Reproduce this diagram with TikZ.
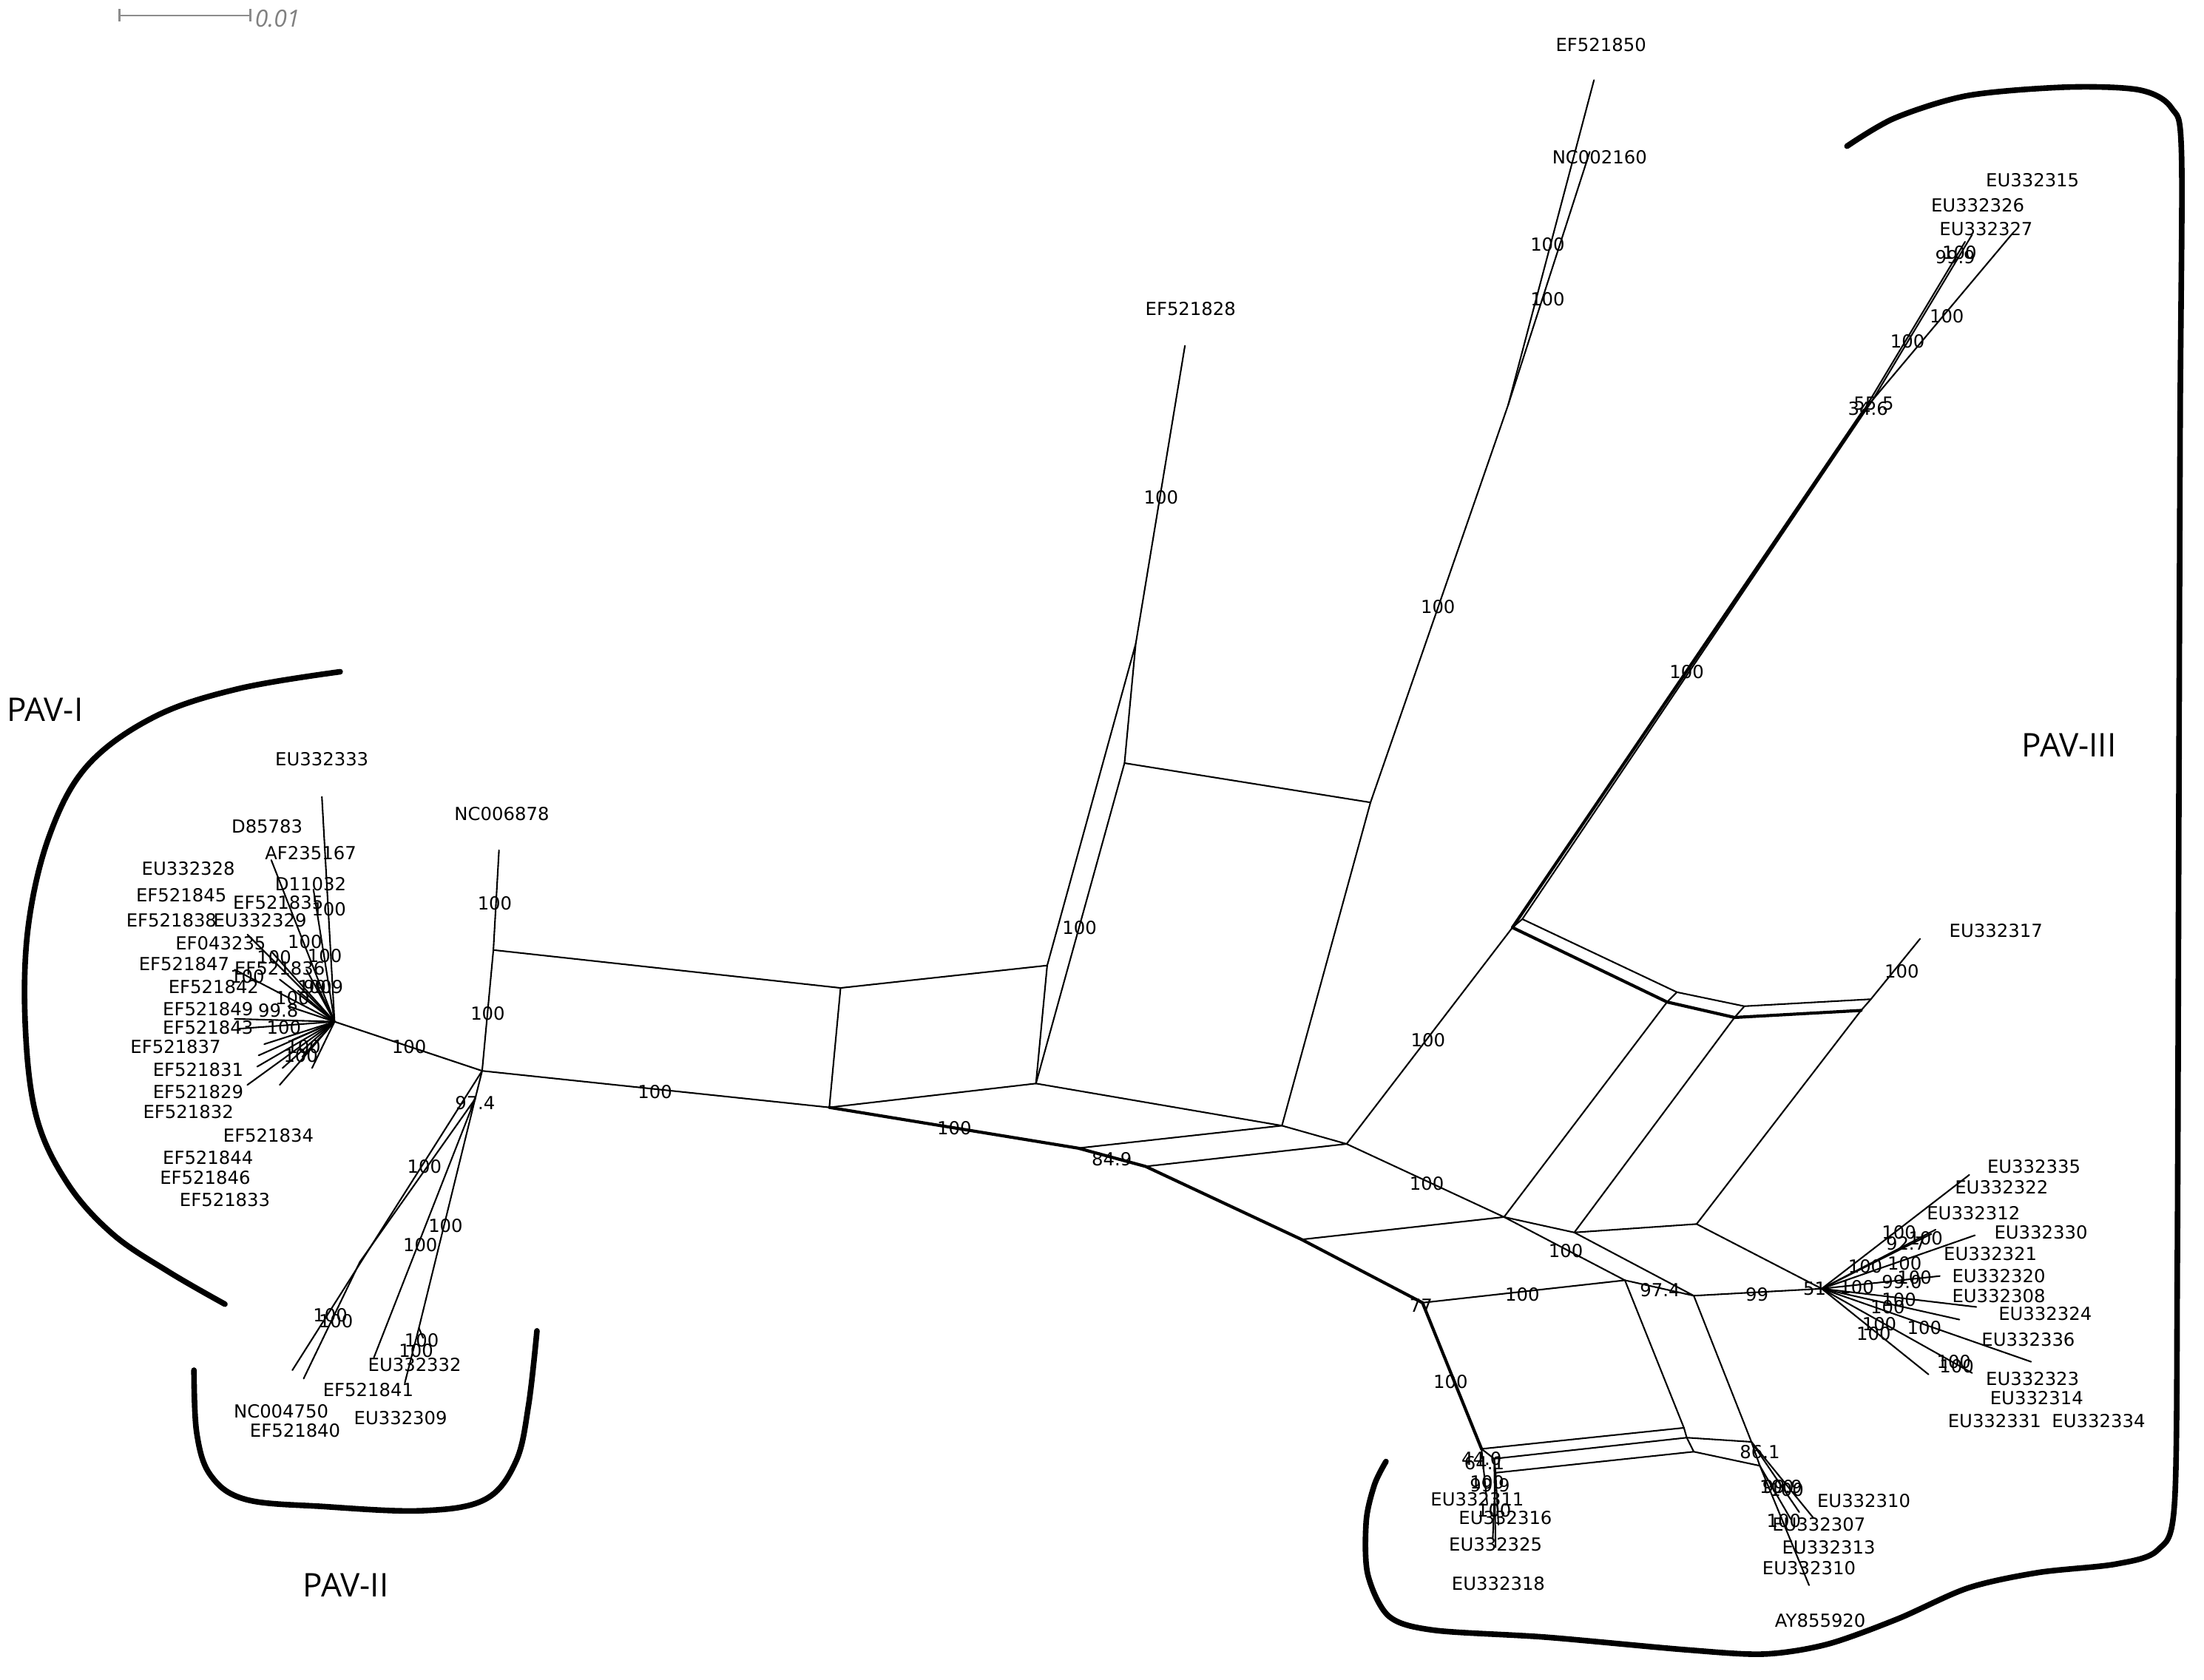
\documentclass[tikz,border=0pt]{standalone}
\usepackage{fontspec}
\usetikzlibrary{calc}
\setmainfont{DejaVu Sans}
\newfontfamily\pavfont{Open Sans}
\begin{document}
\begin{tikzpicture}[x=0.5pt,y=-0.5pt,
  br/.style={line width=0.55pt, line join=round, line cap=round},
  brthick/.style={line width=1.1pt, line join=round, line cap=round},
  lab/.style={font=\fontsize{6.4}{7}\selectfont, inner sep=0pt},
  pav/.style={font=\pavfont\fontsize{11.6}{13}\selectfont, inner sep=0pt},
  bracket/.style={line width=2pt, line cap=round, line join=round}]
\useasboundingbox (0,0) rectangle (1568,1195);
% ---------- scale bar ----------
\coordinate (sb1) at (85,11); \coordinate (sb2) at (178,11);
\draw[gray!90, line width=0.7pt] (sb1) -- (sb2);
\draw[gray!90, line width=0.7pt] ($(sb1)+(0,-4.5)$) -- ($(sb1)+(0,4.5)$);
\draw[gray!90, line width=0.7pt] ($(sb2)+(0,-4.5)$) -- ($(sb2)+(0,4.5)$);
\node[font=\pavfont\itshape\fontsize{8.4}{9}\selectfont, text=gray, anchor=west, inner sep=0pt] (sbt) at (181,13) {0.01};
% ---------- vertices ----------
\coordinate (hubI) at (238,727);
\coordinate (A) at (343,762);
\coordinate (Q) at (338,782);
\coordinate (B) at (351,676);
\coordinate (tNC6878) at (355,605);
\coordinate (C) at (598,703);
\coordinate (D) at (590,788);
\coordinate (E) at (745,687);
\coordinate (F) at (737,771);
\coordinate (X1) at (808,458);
\coordinate (X2) at (800,543);
\coordinate (tEF521828) at (843,246);
\coordinate (Y2) at (975,571);
\coordinate (J) at (1073,288);
\coordinate (tEF521850) at (1134,57);
\coordinate (tNC002160) at (1131,108);
\coordinate (G1) at (912,801);
\coordinate (G2) at (958,814);
\coordinate (H1) at (767,817);
\coordinate (H2) at (815,830);
\coordinate (H3) at (926,882);
\coordinate (N77) at (1012,927);
\coordinate (M1) at (1070,866);
\coordinate (M2) at (1120,877);
\coordinate (M3) at (1207,871);
\coordinate (M4) at (1156,911);
\coordinate (M5) at (1205,922);
\coordinate (hubR) at (1296,917);
\coordinate (K1) at (1076,660);
\coordinate (K1b) at (1083,654);
\coordinate (T1) at (1186,713);
\coordinate (T1b) at (1193,706);
\coordinate (T2) at (1234,724);
\coordinate (T2b) at (1241,716);
\coordinate (T3) at (1324,719);
\coordinate (T3b) at (1331,711);
\coordinate (tEU332317) at (1366,668);
\coordinate (U) at (1326,292);
\coordinate (Ub) at (1332,285);
\coordinate (La) at (1054,1031);
\coordinate (Lb) at (1063,1038);
\coordinate (Lc) at (1064,1048);
\coordinate (Pa) at (1198,1016);
\coordinate (Pb) at (1200,1023);
\coordinate (Pc) at (1205,1033);
\coordinate (Ra) at (1246,1026);
\coordinate (Rc) at (1252,1043);
\coordinate (S2) at (256,898);
\coordinate (R2) at (298,945);
% ---------- network edges ----------
\draw[br] (hubI) -- (A) -- (B) -- (tNC6878);
\draw[br] (A) -- (Q);
\draw[br] (B) -- (C) -- (D) -- (A);
\draw[br] (C) -- (E) -- (F) -- (D);
\draw[br] (E) -- (X1) -- (X2) -- (F);
\draw[br] (X1) -- (tEF521828);
\draw[br] (X2) -- (Y2) -- (G1) -- (F);
\draw[br] (Y2) -- (J) -- (tEF521850);
\draw[br] (J) -- (tNC002160);
\draw[brthick] (D) -- (H1) -- (H2) -- (H3) -- (N77);
\draw[br] (H1) -- (G1) -- (G2) -- (H2);
\draw[br] (G2) -- (M1) -- (H3);
\draw[br] (M1) -- (M4) -- (N77);
\draw[br] (G2) -- (K1);
\draw[brthick] (K1) -- (T1) -- (T2) -- (T3);
\draw[br] (K1) -- (K1b) -- (T1b) -- (T2b) -- (T3b) -- (tEU332317);
\draw[br] (T1) -- (T1b); \draw[br] (T2) -- (T2b); \draw[br] (T3) -- (T3b);
\draw[br] (T1) -- (M1) -- (M2) -- (T2);
\draw[br] (M2) -- (M3) -- (T3);
\draw[br] (M2) -- (M5) -- (M4);
\draw[br] (M3) -- (hubR) -- (M5);
\draw[brthick] (K1) -- (U);
\draw[br] (K1b) -- (Ub) -- (U);
\draw[br] (U) -- (1431,167);
\draw[br] (U) -- (1398,172);
\draw[br] (Ub) -- (1403,167);
\draw[brthick] (N77) -- (La);
\draw[br] (La) -- (Pa); \draw[br] (Lb) -- (Pb); \draw[br] (Lc) -- (Pc);
\draw[br] (La) -- (Lb) -- (Lc);
\draw[br] (Pa) -- (Pb) -- (Pc);
\draw[br] (M4) -- (Pa);
\draw[br] (M5) -- (Ra);
\draw[br] (Pb) -- (Ra) -- (Rc) -- (Pc);
% bottom-right fan
\draw[br] (Ra) -- (1280,1076);
\draw[br] (Ra) -- (1290,1080);
\draw[br] (Rc) -- (1274,1081);
\draw[br] (Rc) -- (1287,1128);
% bottom-left fan
\draw[br] (Lb) -- (1064,1101);
\draw[br] (Lc) -- (1066,1085);
\draw[br] (La) -- (1058,1070);
\draw[br] (Lc) -- (1062,1095);
% right hub fan
\foreach \p in {(1401,836),(1377,875),(1374,878),(1405,879),(1380,908),(1406,930),(1394,939),(1445,969),(1403,977),(1372,978)}
  \draw[br] (hubR) -- \p;
% PAV-I hub fan
\foreach \p in {(229,567),(193,612),(223,633),(176,665),(193,677),(167,690),(199,697),(167,725),(170,732),(188,743),(184,751),(183,759),(176,772),(201,760),(199,772),(212,705),(218,690),(208,740),(215,752),(222,760),(225,700),(205,716)}
  \draw[br] (hubI) -- \p;
% PAV-II branches
\draw[br] (A) -- (208,975);
\draw[br] (Q) -- (S2) -- (216,981);
\draw[br] (Q) -- (266,966);
\draw[br] (Q) -- (R2) -- (288,984);
\draw[br] (R2) -- (301,952);
% ---------- taxon labels ----------
\node[lab] (lEF521850) at (1139,32) {EF521850};
\node[lab] (lNC002160) at (1138,112) {NC002160};
\node[lab] (lEF521828) at (847,220) {EF521828};
\node[lab] (lNC006878) at (357,579) {NC006878};
\node[lab] (lEU332317) at (1420,662) {EU332317};
\node[lab] (lEU332315) at (1446,128) {EU332315};
\node[lab] (lEU332326) at (1407,146) {EU332326};
\node[lab] (lEU332327) at (1413,163) {EU332327};
% PAV-I
\node[lab] (lEU332333) at (229,540) {EU332333};
\node[lab] (lD85783) at (190,588) {D85783};
\node[lab] (lAF235167) at (221,607) {AF235167};
\node[lab] (lEU332328) at (134,618) {EU332328};
\node[lab] (lD11032) at (221,629) {D11032};
\node[lab] (lEF521845) at (129,637) {EF521845};
\node[lab] (lEF521835) at (198,642) {EF521835};
\node[lab] (lEF521838) at (122,655) {EF521838};
\node[lab] (lEU332329) at (185,655) {EU332329};
\node[lab] (lEF043235) at (157,671) {EF043235};
\node[lab] (lEF521847) at (131,686) {EF521847};
\node[lab] (lEF521836) at (199,689) {EF521836};
\node[lab] (lEF521842) at (152,702) {EF521842};
\node[lab] (lEF521849) at (148,718) {EF521849};
\node[lab] (lEF521843) at (148,731) {EF521843};
\node[lab] (lEF521837) at (125,745) {EF521837};
\node[lab] (lEF521831) at (141,761) {EF521831};
\node[lab] (lEF521829) at (141,777) {EF521829};
\node[lab] (lEF521832) at (134,791) {EF521832};
\node[lab] (lEF521834) at (191,808) {EF521834};
\node[lab] (lEF521844) at (148,824) {EF521844};
\node[lab] (lEF521846) at (146,838) {EF521846};
\node[lab] (lEF521833) at (160,854) {EF521833};
% PAV-II
\node[lab] (lEU332332) at (295,971) {EU332332};
\node[lab] (lEF521841) at (262,989) {EF521841};
\node[lab] (lNC004750) at (200,1004) {NC004750};
\node[lab] (lEU332309) at (285,1009) {EU332309};
\node[lab] (lEF521840) at (210,1018) {EF521840};
% PAV-III right hub
\node[lab] (lEU332335) at (1447,830) {EU332335};
\node[lab] (lEU332322) at (1424,845) {EU332322};
\node[lab] (lEU332312) at (1404,863) {EU332312};
\node[lab] (lEU332330) at (1452,877) {EU332330};
\node[lab] (lEU332321) at (1416,892) {EU332321};
\node[lab] (lEU332320) at (1422,908) {EU332320};
\node[lab] (lEU332308) at (1422,922) {EU332308};
\node[lab] (lEU332324) at (1455,935) {EU332324};
\node[lab] (lEU332336) at (1443,953) {EU332336};
\node[lab] (lEU332323) at (1446,981) {EU332323};
\node[lab] (lEU332314) at (1449,995) {EU332314};
\node[lab] (lEU332331) at (1419,1011) {EU332331};
\node[lab] (lEU332334) at (1493,1011) {EU332334};
% bottom clusters
\node[lab] (lEU332311) at (1051,1067) {EU332311};
\node[lab] (lEU332316) at (1071,1080) {EU332316};
\node[lab] (lEU332325) at (1064,1099) {EU332325};
\node[lab] (lEU332318) at (1066,1127) {EU332318};
\node[lab] (lEU332310a) at (1326,1068) {EU332310};
\node[lab] (lEU332307) at (1294,1085) {EU332307};
\node[lab] (lEU332313) at (1301,1101) {EU332313};
\node[lab] (lEU332310b) at (1287,1116) {EU332310};
\node[lab] (lAY855920) at (1295,1153) {AY855920};
% ---------- support values ----------
\node[lab] (s1) at (1101,174) {100};
\node[lab] (s2) at (1101,213) {100};
\node[lab] (s3) at (826,354) {100};
\node[lab] (s4) at (1023,432) {100};
\node[lab] (s5) at (768,660) {100};
\node[lab] (s6) at (1200,478) {100};
\node[lab] (s7) at (1016,740) {100};
\node[lab] (s8) at (1353,691) {100};
\node[lab] (s9) at (466,777) {100};
\node[lab] (s10) at (679,803) {100};
\node[lab] (s11) at (791,825) {84.9};
\node[lab] (s12) at (1015,842) {100};
\node[lab] (s13) at (1114,890) {100};
\node[lab] (s14) at (1083,921) {100};
\node[lab] (s15) at (1181,918) {97.4};
\node[lab] (s16) at (1250,921) {99};
\node[lab] (s17) at (1011,929) {77};
\node[lab] (s18) at (1032,983) {100};
\node[lab] (s19) at (352,643) {100};
\node[lab] (s20) at (347,721) {100};
\node[lab] (s21) at (338,785) {97.4};
\node[lab] (s22) at (291,745) {100};
\node[lab] (s23) at (1333,287) {55.5};
\node[lab] (s24) at (1329,291) {34.6};
\node[lab] (s25) at (1394,180) {100};
\node[lab] (s26) at (1391,183) {99.9};
\node[lab] (s27) at (1357,243) {100};
\node[lab] (s28) at (1385,225) {100};
% right hub supports
\node[lab] (h0) at (1291,917) {51};
\node[lab] (h1) at (1351,877) {100};
\node[lab] (h2) at (1370,881) {100};
\node[lab] (h3) at (1356,885) {92.7};
\node[lab] (h4) at (1327,901) {100};
\node[lab] (h5) at (1355,899) {100};
\node[lab] (h6) at (1321,916) {100};
\node[lab] (h7) at (1353,912) {99.0};
\node[lab] (h8) at (1362,909) {100};
\node[lab] (h9) at (1351,925) {100};
\node[lab] (h10) at (1343,930) {100};
\node[lab] (h11) at (1369,945) {100};
\node[lab] (h12) at (1337,942) {100};
\node[lab] (h13) at (1333,949) {100};
\node[lab] (h14) at (1390,969) {100};
\node[lab] (h15) at (1392,972) {100};
% bottom cluster supports
\node[lab] (b1) at (1054,1038) {44.0};
\node[lab] (b2) at (1056,1041) {64.1};
\node[lab] (b3) at (1058,1055) {100};
\node[lab] (b4) at (1060,1057) {99.9};
\node[lab] (b5) at (1063,1075) {100};
\node[lab] (b6) at (1252,1033) {86.1};
\node[lab] (b7) at (1264,1058) {100};
\node[lab] (b8) at (1268,1058) {99.9};
\node[lab] (b9) at (1271,1060) {100};
\node[lab] (b10) at (1269,1082) {100};
% PAV-I supports
\node[lab] (p1) at (234,647) {100};
\node[lab] (p2) at (217,670) {100};
\node[lab] (p3) at (231,680) {100};
\node[lab] (p4) at (195,681) {100};
\node[lab] (p5) at (176,695) {100};
\node[lab] (p6) at (224,702) {100};
\node[lab] (p7) at (230,702) {99.9};
\node[lab] (p8) at (208,710) {100};
\node[lab] (p9) at (198,719) {99.8};
\node[lab] (p10) at (202,731) {100};
\node[lab] (p11) at (216,745) {100};
\node[lab] (p12) at (214,751) {100};
% PAV-II supports
\node[lab] (q1) at (302,830) {100};
\node[lab] (q2) at (317,872) {100};
\node[lab] (q3) at (299,886) {100};
\node[lab] (q4) at (235,936) {100};
\node[lab] (q5) at (239,940) {100};
\node[lab] (q6) at (300,954) {100};
\node[lab] (q7) at (296,961) {100};
% ---------- group brackets ----------
\draw[bracket] plot[smooth, tension=0.6] coordinates {(242,478) (170,490) (110,510) (62,545) (35,595) (20,660) (18,730) (26,795) (48,842) (80,878) (120,905) (160,928)};
\draw[bracket] plot[smooth, tension=0.6] coordinates {(138,975) (140,1020) (150,1050) (175,1067) (230,1072) (300,1075) (345,1067) (367,1040) (376,1000) (382,947)};
\draw[bracket] plot[smooth, tension=0.5] coordinates {(1314,104) (1348,84) (1400,68) (1470,62) (1522,64) (1545,77) (1552,110) (1551,300) (1550,600) (1549,900) (1547,1070) (1535,1103) (1505,1113) (1450,1119) (1400,1130) (1350,1152) (1300,1170) (1255,1177) (1200,1174) (1100,1165) (1020,1160) (988,1150) (973,1120) (972,1082) (978,1056) (986,1040)};
\node[pav] (PAVI) at (32,505) {PAV-I};
\node[pav] (PAVII) at (246,1128) {PAV-II};
\node[pav] (PAVIII) at (1472,530) {PAV-III};
\end{tikzpicture}
\end{document}
